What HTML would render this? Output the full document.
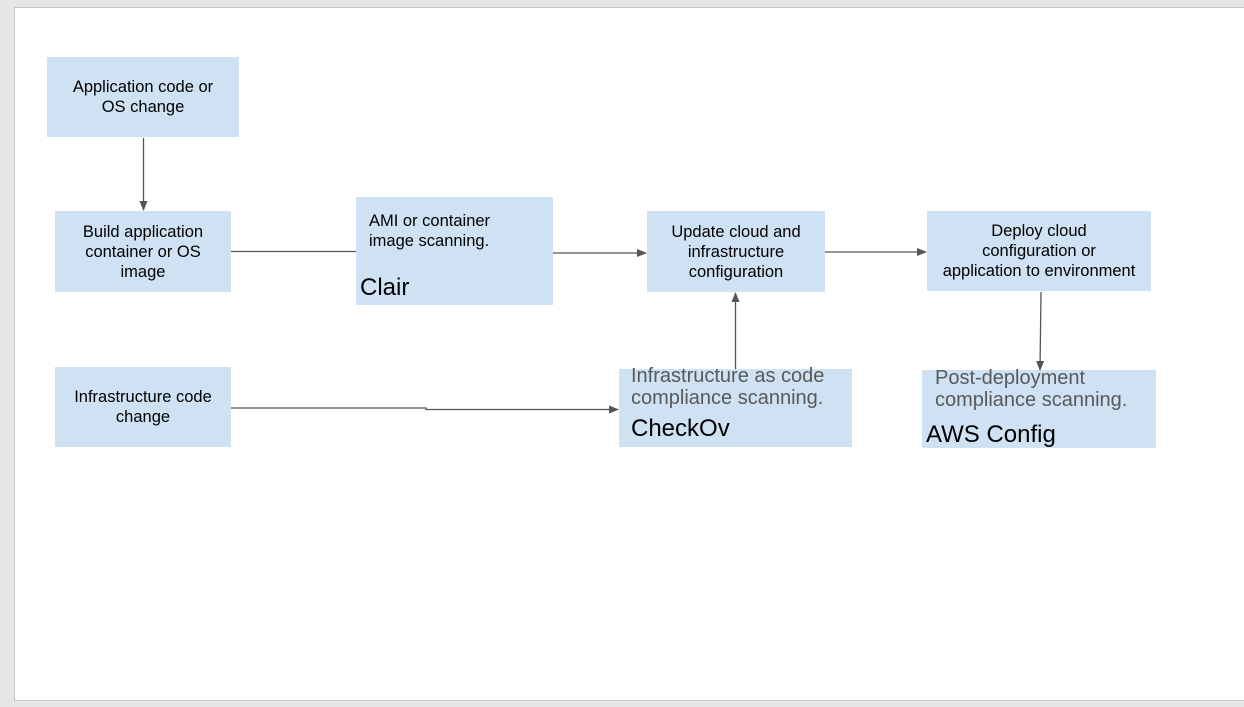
<!DOCTYPE html>
<html><head><style>
body{margin:0;width:1244px;height:707px;background:#e6e6e6;position:relative;overflow:hidden;font-family:"Liberation Sans",sans-serif}
.page{position:absolute;left:14px;top:7px;width:1240px;height:692px;background:#fff;border:1px solid #c6c6c6}
.b{position:absolute;background:#cfe2f3;color:#000;font-size:16.5px;line-height:20px;text-align:center;display:flex;align-items:center;justify-content:center;white-space:nowrap}
.t{position:absolute;white-space:nowrap}
.g{color:#595959;font-size:20px;line-height:22px}
svg{position:absolute;left:0;top:0}
</style></head><body>
<div class="page"></div>
<div class="b" style="left:47px;top:57px;width:192px;height:80px">Application code or<br>OS change</div>
<div class="b" style="left:55px;top:211px;width:176px;height:81px">Build application<br>container or OS<br>image</div>
<div class="b" style="left:356px;top:197px;width:197px;height:108px"></div>
<div class="t" style="left:369px;top:211px;font-size:16.5px;line-height:20px">AMI or container<br>image scanning.</div>
<div class="t" style="left:360px;top:274px;font-size:24px">Clair</div>
<div class="b" style="left:647px;top:211px;width:178px;height:81px">Update cloud and<br>infrastructure<br>configuration</div>
<div class="b" style="left:927px;top:211px;width:224px;height:80px">Deploy cloud<br>configuration or<br>application to environment</div>
<div class="b" style="left:55px;top:367px;width:176px;height:80px">Infrastructure code<br>change</div>
<div class="b" style="left:619px;top:369px;width:233px;height:78px"></div>
<div class="t g" style="left:631px;top:365px">Infrastructure as code<br>compliance scanning.</div>
<div class="t" style="left:631px;top:415px;font-size:24px">CheckOv</div>
<div class="b" style="left:922px;top:370px;width:234px;height:78px"></div>
<div class="t g" style="left:935px;top:367px">Post-deployment<br>compliance scanning.</div>
<div class="t" style="left:926px;top:421px;font-size:24px">AWS Config</div>
<svg width="1244" height="707">
<defs><marker id="a" markerWidth="10" markerHeight="8" refX="9" refY="4" orient="auto" markerUnits="userSpaceOnUse"><path d="M0,0L10,4L0,8z" fill="#555"/></marker></defs>
<g stroke="#555" stroke-width="1.3" fill="none">
<path d="M143.5,138V210" marker-end="url(#a)"/>
<path d="M231,251.5H356"/>
<path d="M553,253H646" marker-end="url(#a)"/>
<path d="M825,252H926" marker-end="url(#a)"/>
<path d="M1041,292L1040,370" marker-end="url(#a)"/>
<path d="M735.5,369V293" marker-end="url(#a)"/>
<path d="M231,408H426V409.5H618" marker-end="url(#a)"/>
</g></svg>
</body></html>
